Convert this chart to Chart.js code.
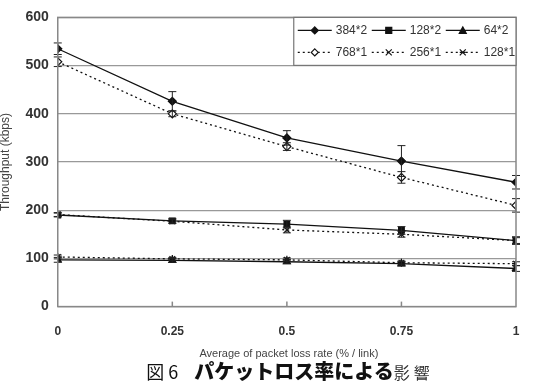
<!DOCTYPE html>
<html>
<head>
<meta charset="utf-8">
<script src="https://cdn.jsdelivr.net/npm/chart.js@4/dist/chart.umd.min.js"></script>
<style>
body { margin: 0; background: #fff; }
#wrap { position: relative; width: 547px; height: 386px; overflow: hidden; }
#myChart { position: absolute; left: -2px; top: 0; }
#cap { position: absolute; top: 357px; left: 0; width: 580px; text-align: center;
       font-family: "Noto Sans CJK JP"; font-size: 18px; color: #111; line-height: 28px; }
#cap b { font-weight: 900; font-size: 20px; }
#cap span { font-size: 16px; letter-spacing: 4px; color: #333; }
</style>
</head>
<body>
<div id="wrap">
  <canvas id="myChart" width="552" height="372"></canvas>
  <div id="cap">図 6&nbsp;&nbsp;&nbsp; <b>パケットロス率による</b><span>影響</span></div>
</div>
<script>
// x positions: average packet loss rate
var lossRates = [0, 0.25, 0.5, 0.75, 1];
var xTickLabels = {0: '0', 0.25: '0.25', 0.5: '0.5', 0.75: '0.75', 1: '1'};
var xTitle = 'Average of packet loss rate (% / link)';

// throughput (kbps) for each setting, plus error bar half-lengths
var s384x2 = [535, 426, 350, 302, 258];
var e384x2 = [12, 20, 15, 32, 14];
var s128x2 = [190, 178, 171, 158, 137];
var e128x2 = [4, 5, 8, 8, 8];
var s64x2  = [97, 96, 93, 89, 79];
var e64x2  = [5, 4, 4, 5, 6];
var s768x1 = [508, 400, 332, 268, 210];
var e768x1 = [10, 6, 8, 12, 14];
var s256x1 = [191, 177, 159, 150, 137];
var e256x1 = [4, 4, 6, 6, 6];
var s128x1 = [103, 99, 97, 91, 89];
var e128x1 = [4, 3, 4, 3, 4];

function pts(arr) {
  return arr.map(function (v, i) { return {x: lossRates[i], y: v}; });
}

function mkSet(label, data, err, style, dashed, fill) {
  return {
    label: label,
    data: pts(data),
    err: err,
    borderColor: '#111',
    borderWidth: 1.3,
    borderDash: dashed ? [2, 3] : [],
    pointStyle: style,
    pointRadius: 4,
    pointBackgroundColor: fill,
    pointBorderColor: '#111',
    pointBorderWidth: 1.2,
    tension: 0
  };
}

var sets = [
  mkSet('384*2', s384x2, e384x2, 'rectRot', false, '#111'),
  mkSet('128*2', s128x2, e128x2, 'rect', false, '#111'),
  mkSet('64*2', s64x2, e64x2, 'triangle', false, '#111'),
  mkSet('768*1', s768x1, e768x1, 'rectRot', true, '#fff'),
  mkSet('256*1', s256x1, e256x1, 'crossRot', true, '#fff'),
  mkSet('128*1', s128x1, e128x1, 'star', true, '#fff')
];

function marker(ctx, style, x, y, fill) {
  ctx.save();
  ctx.setLineDash([]);
  ctx.strokeStyle = '#111';
  ctx.fillStyle = fill;
  ctx.lineWidth = 1.2;
  ctx.beginPath();
  if (style == 'rectRot') {
    ctx.moveTo(x, y - 3.5); ctx.lineTo(x + 3.5, y); ctx.lineTo(x, y + 3.5); ctx.lineTo(x - 3.5, y); ctx.closePath();
    ctx.fill(); ctx.stroke();
  } else if (style == 'rect') {
    ctx.rect(x - 3, y - 3, 6, 6); ctx.fill(); ctx.stroke();
  } else if (style == 'triangle') {
    ctx.moveTo(x, y - 3.5); ctx.lineTo(x + 3.5, y + 3); ctx.lineTo(x - 3.5, y + 3); ctx.closePath();
    ctx.fill(); ctx.stroke();
  } else if (style == 'crossRot') {
    ctx.moveTo(x - 3, y - 3); ctx.lineTo(x + 3, y + 3); ctx.moveTo(x + 3, y - 3); ctx.lineTo(x - 3, y + 3);
    ctx.stroke();
  } else {
    ctx.moveTo(x - 3, y - 3); ctx.lineTo(x + 3, y + 3); ctx.moveTo(x + 3, y - 3); ctx.lineTo(x - 3, y + 3);
    ctx.moveTo(x - 3, y); ctx.lineTo(x + 3, y);
    ctx.stroke();
  }
  ctx.restore();
}

var extras = {
  id: 'extras',
  afterDatasetsDraw: function (chart) {
    var ctx = chart.ctx, xs = chart.scales.x, ys = chart.scales.y, a = chart.chartArea;
    ctx.save();
    ctx.strokeStyle = '#222';
    ctx.lineWidth = 1;
    chart.data.datasets.forEach(function (ds) {
      ds.data.forEach(function (p, i) {
        var px = xs.getPixelForValue(p.x);
        var top = ys.getPixelForValue(p.y + ds.err[i]);
        var bot = ys.getPixelForValue(p.y - ds.err[i]);
        ctx.beginPath();
        ctx.moveTo(px, top); ctx.lineTo(px, bot);
        ctx.moveTo(px - 4, top); ctx.lineTo(px + 4, top);
        ctx.moveTo(px - 4, bot); ctx.lineTo(px + 4, bot);
        ctx.stroke();
      });
    });
    // frame and inner x ticks
    ctx.strokeStyle = '#888';
    ctx.lineWidth = 1.5;
    ctx.strokeRect(a.left, a.top, a.right - a.left, a.bottom - a.top);
    [0.25, 0.5, 0.75].forEach(function (v) {
      var px = xs.getPixelForValue(v);
      ctx.beginPath(); ctx.moveTo(px, a.bottom); ctx.lineTo(px, a.bottom - 5); ctx.stroke();
    });
    // x axis title
    ctx.fillStyle = '#444';
    ctx.font = '11px "Liberation Sans"';
    ctx.textAlign = 'center';
    ctx.textBaseline = 'middle';
    ctx.fillText(xTitle, (a.left + a.right) / 2 + 2, a.bottom + 47);
    ctx.textAlign = 'left';
    // legend box
    var lx = a.left + 236, ly = a.top, lw = a.right - lx, lh = 48;
    ctx.fillStyle = '#fff';
    ctx.fillRect(lx, ly, lw, lh);
    ctx.strokeStyle = '#777';
    ctx.lineWidth = 1.2;
    ctx.strokeRect(lx, ly, lw, lh);
    var cols = [lx + 4, lx + 78, lx + 152];
    ctx.font = '12px "Liberation Sans"';
    chart.data.datasets.forEach(function (ds, k) {
      var cx = cols[k % 3], cy = ly + (k < 3 ? 13 : 35);
      ctx.save();
      ctx.strokeStyle = '#111';
      ctx.lineWidth = 1.2;
      ctx.setLineDash(ds.borderDash);
      ctx.beginPath(); ctx.moveTo(cx, cy); ctx.lineTo(cx + 34, cy); ctx.stroke();
      ctx.restore();
      marker(ctx, ds.pointStyle, cx + 17, cy, ds.pointBackgroundColor);
      ctx.fillStyle = '#333';
      ctx.fillText(ds.label, cx + 38, cy);
    });
    ctx.restore();
  }
};

var myChart = new Chart(document.getElementById('myChart').getContext('2d'), {
  type: 'line',
  data: { datasets: sets },
  options: {
    responsive: false,
    animation: false,
    layout: { padding: { top: 5, right: 34, left: 0, bottom: 23 } },
    plugins: { legend: { display: false }, tooltip: { enabled: false } },
    scales: {
      x: {
        type: 'linear', min: 0, max: 1,
        ticks: { stepSize: 0.25, color: '#333', font: { family: 'Liberation Sans', size: 12, weight: 'bold' },
                 padding: 10, callback: function (v) { return xTickLabels[v]; } },
        grid: { display: false },
        border: { display: false }
      },
      y: {
        min: 0, max: 600,
        ticks: { stepSize: 100, color: '#333', font: { family: 'Liberation Sans', size: 14, weight: 'bold' }, padding: 9 },
        grid: { color: '#999', lineWidth: 1.3, drawTicks: false },
        border: { display: false },
        title: { display: true, text: 'Throughput (kbps)', color: '#444',
                 font: { family: 'Liberation Sans', size: 12 }, padding: { top: 0, bottom: 4 } }
      }
    }
  },
  plugins: [extras]
});
</script>
</body>
</html>
